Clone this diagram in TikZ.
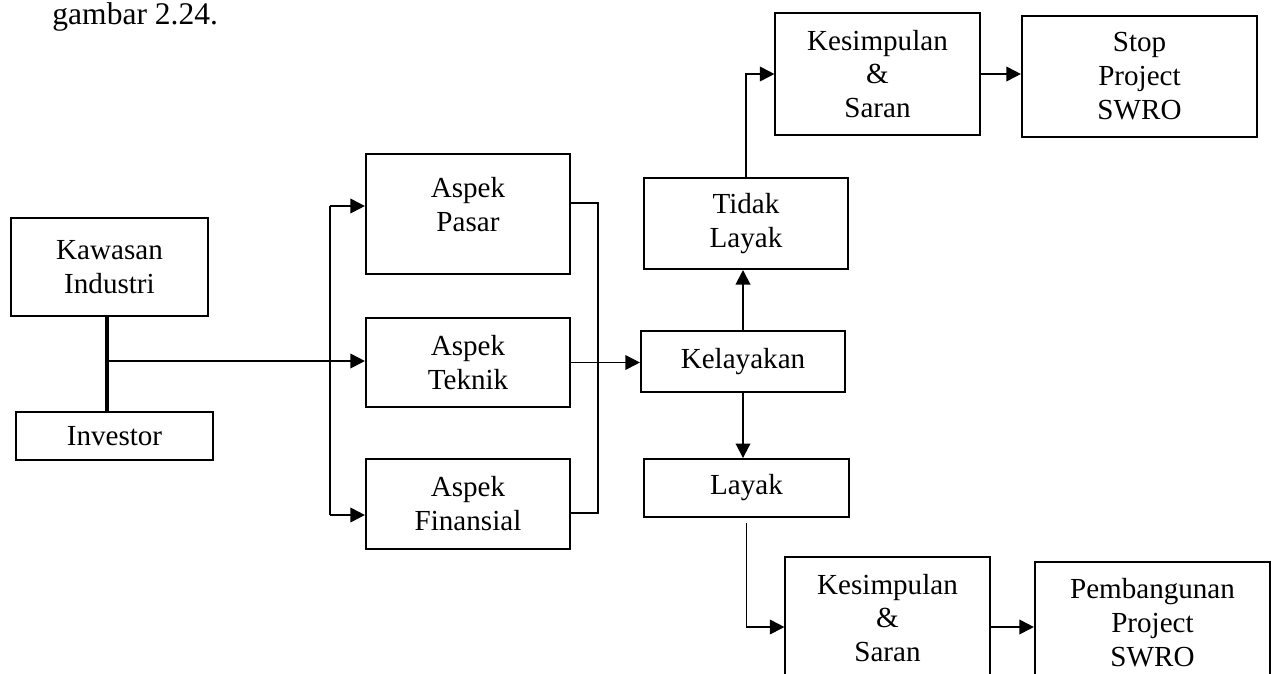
\documentclass[tikz,border=0pt]{standalone}
\usepackage{fontspec}
\setmainfont{Liberation Serif}
\usepackage{tikz}
\usetikzlibrary{positioning, arrows.meta}
\tikzstyle{kotak}=[rectangle, draw=black, line width=0.8pt, align=center, inner sep=2pt, minimum width=2.96cm]
\tikzstyle{garis}=[line width=0.8pt]
\tikzstyle{panah}=[line width=0.8pt, -{Triangle[length=6pt, width=6pt]}]

\begin{document}
\begin{tikzpicture}[x=0.0145cm, y=-0.0145cm, font=\fontsize{12}{14}\selectfont]
                \useasboundingbox (0,0) rectangle (1275,673);
                \clip (0,0) rectangle (1275,673);

                % Teks
                \node[anchor=base west, inner sep=0pt, font=\fontsize{13}{15}\selectfont] (judul) at (52,24) {gambar 2.24.};

                % Kotak
                \node[kotak, minimum width=2.86cm, minimum height=1.42cm] (kawasan) at (109.5,267) {Kawasan\\Industri};
                \node[kotak, minimum width=2.86cm, minimum height=0.7cm] (investor) at (114.5,436) {Investor};
                \node[kotak, minimum height=1.74cm] (pasar) at (468,214) {Aspek\\Pasar\\[-6pt]\mbox{}};
                \node[kotak, minimum height=1.29cm] (teknik) at (468,362.5) {Aspek\\Teknik};
                \node[kotak, minimum height=1.31cm] (finansial) at (468,504) {Aspek\\Finansial};
                \node[kotak, minimum height=0.89cm] (kelayakan) at (743,361.5) {Kelayakan};
                \node[kotak, minimum height=1.32cm] (tidaklayak) at (746,223.5) {Tidak\\Layak};
                \node[kotak, minimum height=0.84cm] (layak) at (746.5,488) {Layak};
                \node[kotak, minimum height=1.76cm] (simpulan1) at (877.5,74) {Kesimpulan\\\&\\Saran};
                \node[kotak, minimum width=3.41cm, minimum height=1.76cm] (stop) at (1139.5,76.5) {Stop\\Project\\SWRO};
                \node[kotak, minimum height=1.77cm] (simpulan2) at (887.5,618) {Kesimpulan\\\&\\Saran};
                \node[kotak, minimum width=3.41cm, minimum height=1.77cm] (pembangunan) at (1152.5,623) {Pembangunan\\Project\\SWRO};

                % Titik bantu
                \coordinate (cabang) at (107,361);
                \coordinate (kiriatas) at (330,206);
                \coordinate (kiribawah) at (330,515);
                \coordinate (kananatas) at (598,203);
                \coordinate (kananbawah) at (598,513);
                \coordinate (belok) at (746,627);

                % Garis
                \draw[line width=1.4pt] (cabang |- kawasan.south) -- (cabang |- investor.north);
                \draw[panah] (cabang) -- (cabang -| teknik.west);
                \draw[garis] (kiriatas) -- (kiribawah);
                \draw[panah] (kiriatas) -- (kiriatas -| pasar.west);
                \draw[panah] (kiribawah) -- (kiribawah -| finansial.west);
                \draw[garis] (kananatas -| pasar.east) -- (kananatas) -- (kananbawah) -- (kananbawah -| finansial.east);
                \draw[panah] (teknik.east) -- (teknik.east -| kelayakan.west);
                \draw[panah] (kelayakan.north) -- (kelayakan.north |- tidaklayak.south);
                \draw[panah] (kelayakan.south) -- (kelayakan.south |- layak.north);
                \draw[panah] (tidaklayak.north) |- (simpulan1.west);
                \draw[panah] (simpulan1.east) -- (simpulan1.east -| stop.west);
                \draw[panah] ([yshift=-0.07cm]layak.south) |- (belok -| simpulan2.west);
                \draw[panah] (belok -| simpulan2.east) -- (belok -| pembangunan.west);
            \end{tikzpicture}
\end{document}
